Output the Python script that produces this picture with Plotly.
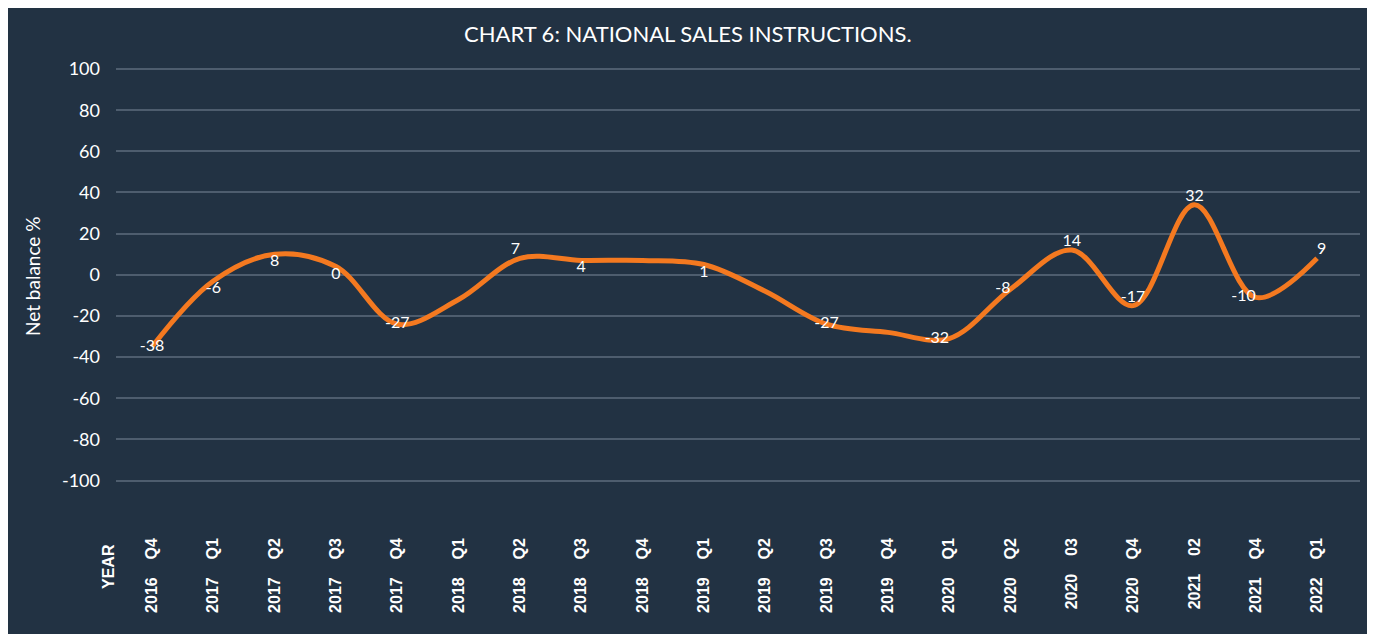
import plotly.graph_objects as go

# ---- data ----
quarters = ["2016 Q4", "2017 Q1", "2017 Q2", "2017 Q3", "2017 Q4", "2018 Q1", "2018 Q2",
            "2018 Q3", "2018 Q4", "2019 Q1", "2019 Q2", "2019 Q3", "2019 Q4", "2020 Q1",
            "2020 Q2", "2020 Q3", "2020 Q4", "2021 Q2", "2021 Q4", "2022 Q1"]
tick_labels = ["2016 Q4", "2017 Q1", "2017 Q2", "2017 Q3", "2017 Q4", "2018 Q1",
               "2018 Q2", "2018 Q3", "2018 Q4", "2019 Q1", "2019 Q2", "2019 Q3",
               "2019 Q4", "2020 Q1", "2020 Q2", "2020 03", "2020 Q4", "2021 02",
               "2021 Q4", "2022 Q1"]
# smoothed line as drawn
net_balance = [-35, -3, 10, 4, -24, -12, 8, 7, 7, 5, -8, -24, -28, -31, -7, 12, -15, 34, -11, 8]
# printed data labels
data_labels = ["-38", "-6", "8", "0", "-27", "", "7", "4", "", "1", "", "-27", "", "-32",
               "-8", "14", "-17", "32", "-10", "9"]
label_pos = ["middle center", "bottom center", "bottom center", "bottom center", "middle center",
             "middle center", "top left", "bottom center", "middle center", "bottom center",
             "middle center", "middle center", "middle center", "middle left", "middle left",
             "top center", "top center", "top center", "middle left", "top right"]
y_ticks = [-100, -80, -60, -40, -20, 0, 20, 40, 60, 80, 100]

BG = "#223243"
GRID = "#4e5d6e"
ORANGE = "#F47920"

fig = go.Figure()
fig.add_trace(go.Scatter(
    x=list(range(len(quarters))), y=net_balance, mode="lines+text",
    line=dict(color=ORANGE, width=5, shape="spline", smoothing=1.0),
    text=data_labels, textposition=label_pos,
    textfont=dict(family="Lato", size=16, color="white"),
    hoverinfo="skip", showlegend=False,
))

OFF = 8  # page body margin
W, H = 1362, 626
L, R, T, B = 108, 10, 59, 100
pw, ph = W - L - R, H - T - B

def px_x(px):
    return (px - OFF - L) / pw

def px_y(py):
    return (H - B - (py - OFF)) / ph

fig.add_annotation(text="CHART 6: NATIONAL SALES INSTRUCTIONS.", xref="paper", yref="paper",
                   x=px_x(688), y=px_y(34), xanchor="center", yanchor="middle", showarrow=False,
                   font=dict(family="Lato", size=22, color="white"))
fig.add_annotation(text="Net balance %", xref="paper", yref="paper",
                   x=px_x(32), y=px_y(276), xanchor="center", yanchor="middle",
                   showarrow=False, textangle=-90,
                   font=dict(family="Lato", size=19, color="white"))
fig.add_annotation(text="YEAR", xref="paper", yref="paper",
                   x=px_x(108), y=px_y(567), xanchor="center", yanchor="middle",
                   showarrow=False, textangle=-90,
                   font=dict(family="Liberation Sans", size=16, color="white", weight="bold"))

fig.update_layout(
    width=W, height=H,
    margin=dict(l=L, r=R, t=T, b=B),
    paper_bgcolor=BG, plot_bgcolor=BG,
    xaxis=dict(range=[-0.587, 19.70],
               tickmode="array", tickvals=list(range(len(quarters))),
               ticktext=[t.replace(" ", "\u00a0" * 4) for t in tick_labels],
               tickangle=-90, showgrid=False, zeroline=False, showline=False, ticks="",
               tickfont=dict(family="Liberation Sans", size=16, color="white", weight="bold")),
    yaxis=dict(range=[-126, 101], tickmode="array",
               tickvals=y_ticks, ticktext=[str(v) for v in y_ticks],
               ticklabelstandoff=15,
               showgrid=True, gridcolor=GRID, gridwidth=2, zeroline=False, showline=False,
               ticks="", tickfont=dict(family="Lato", size=18, color="white")),
)

fig.write_html("out.html")
